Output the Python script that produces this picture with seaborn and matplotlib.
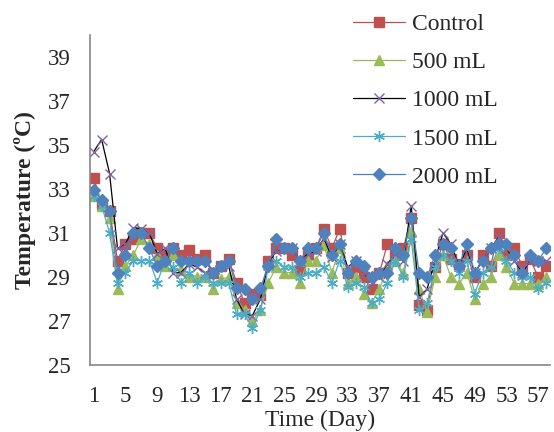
import matplotlib

matplotlib.use("Agg")
import matplotlib.pyplot as plt
import numpy as np
import pandas as pd
import seaborn as sns

# Daily temperatures
days = list(range(1, 59))

control = [33.5, 32.3, 32.0, 29.75, 30.5, 30.75, 31.0, 31.0, 30.3, 30.0,
           30.3, 30.0, 30.25, 29.8, 30.0, 29.2, 29.5, 29.8, 28.75, 27.8,
           28.25, 28.2, 29.75, 30.3, 30.3, 30.0, 29.3, 30.0, 30.3, 31.2,
           30.3, 31.2, 29.2, 29.45, 29.0, 28.45, 29.2, 30.5, 30.0, 30.3,
           31.7, 27.75, 27.5, 29.45, 30.5, 29.8, 29.6, 30.0, 29.0, 30.0,
           29.5, 31.0, 30.0, 30.3, 29.5, 29.8, 29.0, 29.5]

ml_500 = [32.7, 32.25, 31.7, 28.45, 29.5, 30.0, 30.75, 30.5, 30.0, 29.5,
          30.0, 29.3, 29.0, 29.0, 29.0, 28.45, 28.9, 29.0, 27.8, 27.5,
          27.0, 27.5, 28.75, 29.45, 29.2, 29.2, 28.75, 29.75, 29.75, 30.45,
          29.2, 30.3, 28.75, 29.0, 28.25, 27.8, 28.45, 29.5, 29.75, 29.2,
          31.1, 28.45, 27.4, 29.0, 30.0, 29.0, 28.7, 29.2, 28.0, 28.7,
          29.0, 30.0, 29.45, 28.7, 28.7, 28.7, 28.7, 29.0]

ml_1000 = [34.7, 35.25, 33.7, 30.3, 30.5, 31.25, 31.2, 31.0, 30.05, 30.3,
           29.2, 29.2, 29.6, 29.45, 29.2, 29.3, 29.5, 29.5, 28.0, 27.3,
           27.25, 28.0, 29.6, 30.2, 30.3, 30.3, 29.75, 30.05, 30.2, 30.75,
           29.9, 30.5, 29.45, 29.75, 29.2, 28.75, 29.0, 29.6, 30.05, 29.75,
           32.25, 28.1, 28.45, 29.75, 31.0, 30.5, 29.5, 30.3, 29.2, 29.75,
           30.3, 30.8, 30.3, 29.75, 29.2, 29.75, 29.75, 29.75]

ml_1500 = [32.7, 32.25, 31.0, 28.75, 29.2, 29.75, 29.75, 29.75, 28.75, 29.75,
           29.45, 28.75, 29.2, 28.75, 29.0, 28.75, 28.75, 28.75, 27.3, 27.3,
           26.7, 27.5, 29.45, 29.75, 29.45, 29.45, 29.0, 29.2, 29.2, 29.45,
           28.75, 29.75, 28.55, 28.75, 28.55, 27.8, 28.0, 28.75, 29.75, 29.0,
           30.75, 27.5, 27.8, 29.45, 30.0, 29.75, 29.2, 29.75, 28.25, 29.2,
           29.45, 30.3, 29.75, 29.2, 29.0, 29.0, 28.45, 28.75]

ml_2000 = [32.95, 32.5, 32.0, 29.2, 30.0, 31.0, 31.0, 30.3, 29.5, 29.75,
           30.3, 29.75, 29.75, 29.75, 29.75, 29.2, 29.5, 29.75, 28.5, 28.45,
           28.0, 28.5, 29.5, 30.75, 30.3, 30.3, 29.75, 30.3, 30.3, 31.0,
           30.0, 30.5, 29.2, 29.75, 29.5, 29.0, 29.2, 29.2, 30.3, 30.0,
           31.7, 29.2, 29.0, 30.0, 30.5, 30.3, 29.5, 30.5, 29.2, 29.75,
           30.3, 30.5, 30.5, 30.0, 29.2, 30.0, 29.75, 30.3]

series_names = ["Control", "500 mL", "1000 mL", "1500 mL", "2000 mL"]
y_ticks = [25, 27, 29, 31, 33, 35, 37, 39]
x_tick_labels = list(range(1, 58, 4))

df = pd.DataFrame({"day": days, "Control": control, "500 mL": ml_500,
                   "1000 mL": ml_1000, "1500 mL": ml_1500, "2000 mL": ml_2000})

sns.set_style("white")
plt.rcParams["font.family"] = ["Liberation Serif", "DejaVu Serif"]

# line colour, marker colour, marker, marker size
styles = {
    "Control": ("#C0504D", "#C0504D", "s", 7),
    "500 mL": ("#9BBB59", "#9BBB59", "^", 7),
    "1000 mL": ("black", "#8064A2", "x", 7),
    "1500 mL": ("#4BACC6", "#4BACC6", (6, 2, 0), 8),
    "2000 mL": ("#4F81BD", "#4F81BD", "D", 6.5),
}

fig = plt.figure(figsize=(5.54, 4.32), dpi=100)
ax = fig.add_axes([0.162, 0.155, 0.831, 0.764])

for name in series_names:
    lc, mc, mk, ms = styles[name]
    sns.lineplot(data=df, x="day", y=name, ax=ax, color=lc, linewidth=0.9,
                 marker=mk, markersize=ms, markerfacecolor=mc,
                 markeredgecolor=mc, markeredgewidth=1.0, label=name)

ax.set_xlim(0.5, 58.5)
ax.set_ylim(25, 40)
ax.set_yticks(y_ticks)
ax.set_xticks(x_tick_labels)
ax.set_xticks(days, minor=True)
ax.tick_params(axis="both", which="major", labelsize=16.5, length=5,
               color="#868686", direction="out")
ax.tick_params(axis="x", which="minor", length=5, color="#868686",
               direction="out")
ax.tick_params(axis="x", pad=10)
ax.tick_params(axis="y", pad=9)
sns.despine(ax=ax)
for side in ["left", "bottom"]:
    ax.spines[side].set_color("#868686")
    ax.spines[side].set_linewidth(1.2)

ax.set_xlabel("Time (Day)", fontsize=17, labelpad=2)
ax.set_ylabel("Temperature (ºC)", fontsize=17, fontweight="bold", labelpad=8)

ax.legend(loc="upper left", bbox_to_anchor=(0.638, 0.968),
          bbox_transform=fig.transFigure, frameon=False, fontsize=17,
          handlelength=2.2, handletextpad=0.3, labelspacing=0.7,
          borderpad=0, borderaxespad=0)

fig.savefig("out.png", dpi=100)
plt.close(fig)
